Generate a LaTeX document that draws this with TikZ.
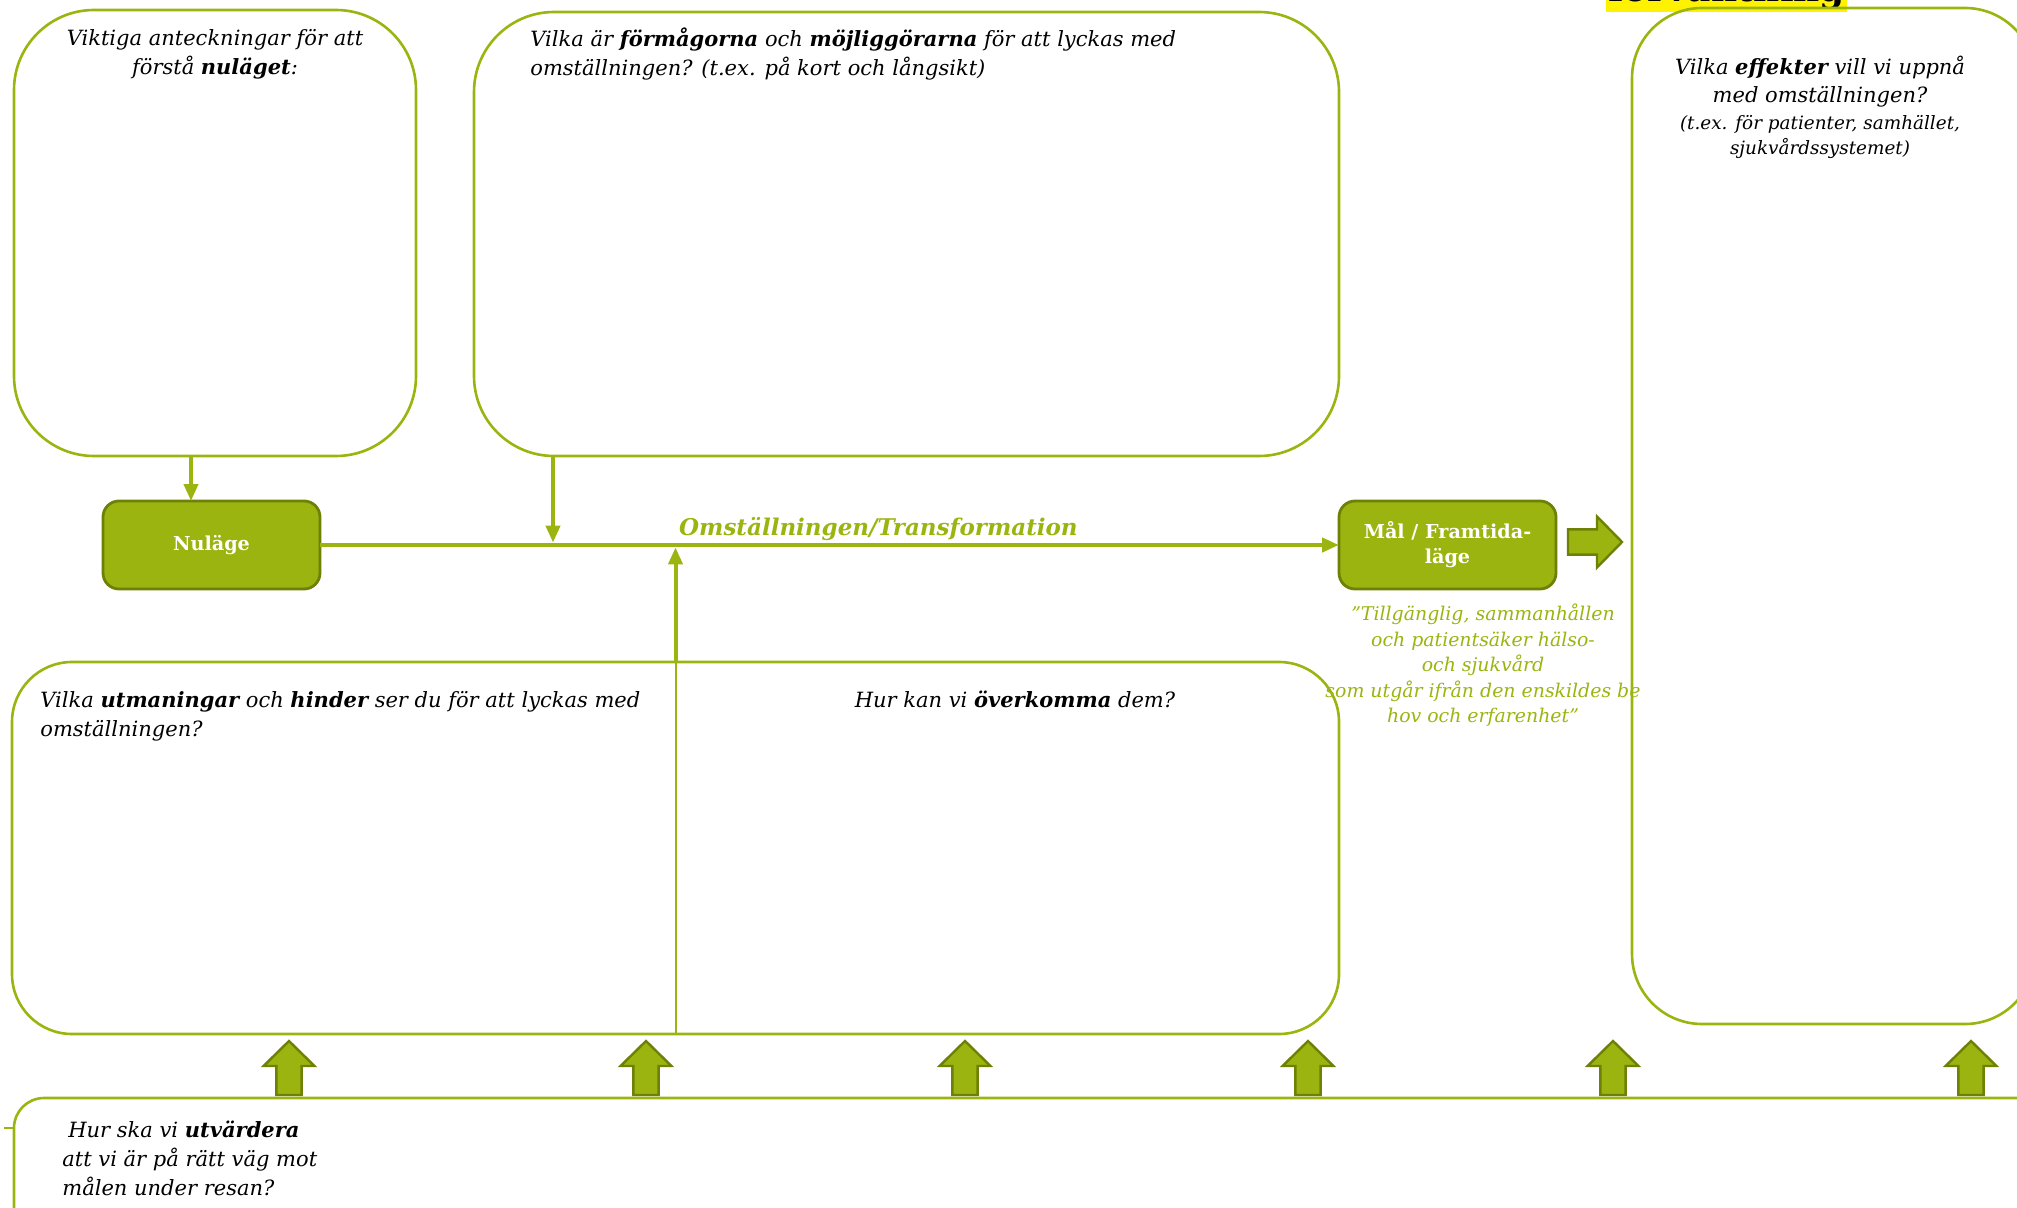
\documentclass[tikz,border=0pt]{standalone}
\usepackage{fontspec}
\setmainfont{DejaVu Serif}
\usepackage{tikz}
\usetikzlibrary{arrows.meta,calc,positioning}
\definecolor{leaf}{HTML}{9BB40F}
\definecolor{leafdark}{HTML}{6E8006}
\tikzset{
	panel/.style={draw=leaf,line width=1.3pt,rounded corners=#1,inner sep=0pt,outer sep=0pt},
	panel/.default=40pt,
	state/.style={draw=leafdark,fill=leaf,line width=1.4pt,rounded corners=8pt,
		minimum width=108.5pt,minimum height=44pt,inner sep=0pt,outer sep=0pt,
		text=white,font=\bfseries\fontsize{9.6}{12.5}\selectfont,align=center},
	note/.style={inner sep=0pt,font=\itshape\fontsize{10.5}{14.5}\selectfont},
	small note/.style={note,font=\itshape\fontsize{9.2}{12.5}\selectfont},
	feed/.style={draw=leaf,line width=2pt,-{Triangle[length=8.5pt,width=7pt]}},
	flow/.style={draw=leaf,line width=2.4pt,-{Triangle[length=8.5pt,width=7pt]}},
	pics/push/.style={code={
		\draw[leafdark,fill=leaf,line width=1.2pt,line join=miter]
			(0,0) -- (12.75pt,-12.5pt) -- (6.3pt,-12.5pt) -- (6.3pt,-27pt)
			-- (-6.3pt,-27pt) -- (-6.3pt,-12.5pt) -- (-12.75pt,-12.5pt) -- cycle;}}
}
\begin{document}
\begin{tikzpicture}[x=0.5pt,y=-0.5pt]
	\useasboundingbox (0,0) rectangle (2017,1208);
	\node [fill=yellow,inner xsep=1pt,inner ysep=1pt,anchor=base west,font=\bfseries\fontsize{18}{18}\selectfont] (rubrik) at (1606,2) {förväntning};
	\node [panel,minimum width=201pt,minimum height=223pt] (ante) at (215,233) {};
	\node [panel,minimum width=432.5pt,minimum height=222pt] (form) at (906.5,234) {};
	\node [panel=35pt,minimum width=201.5pt,minimum height=508pt] (eff) at (1833.5,516) {};
	\node [panel=30pt,minimum width=663.5pt,minimum height=186pt] (utm) at (675.5,848) {};
	\node [panel=15pt,minimum width=1023pt,minimum height=81pt] (utv) at (1037,1179) {};
	\node [state] (nu) at (211.5,545) {Nuläge};
	\node [state] (mal) at (1447.5,545) {Mål / Framtida-\\läge};
	\node [note,align=center,below=9.5pt of ante.north] (anteT) {Viktiga anteckningar för att\\förstå \textbf{nuläget}:};
	\node [note,align=left,below right=7.5pt and 28pt of form.north west] (formT) {Vilka är \textbf{förmågorna} och \textbf{möjliggörarna} för att lyckas med\\omställningen? (t.ex. på kort och långsikt)};
	\node [note,align=center,below=24pt of eff.north,xshift=-6.75pt,font=\itshape\fontsize{10.5}{14}\selectfont] (effT) {Vilka \textbf{effekter} vill vi uppnå\\med omställningen?};
	\node [small note,align=center,below=3.5pt of effT] (effS) {(t.ex. för patienter, samhället,\\sjukvårdssystemet)};
	\node [note,align=left,below right=14.5pt and 14pt of utm.north west] (utmT) {Vilka \textbf{utmaningar} och \textbf{hinder} ser du för att lyckas med\\omställningen?};
	\node [note,anchor=north] (utmR) at (1015,691) {Hur kan vi \textbf{överkomma} dem?};
	\node [note,align=left,below right=11.5pt and 24pt of utv.north west] (utvT) {\hspace{3pt}Hur ska vi \textbf{utvärdera}\\att vi är på rätt väg mot\\målen under resan?};
	\node [note,align=center,text=leaf,below=7.5pt of mal.south,xshift=17.75pt,font=\itshape\fontsize{9.45}{12.75}\selectfont] (malQ) {”Tillgänglig, sammanhållen\\och patientsäker hälso-\\och sjukvård\\som utgår ifrån den enskildes be\\hov och erfarenhet”};
	\coordinate (anteOut) at (191,456);
	\coordinate (formOut) at (553,456);
	\coordinate (utvStub) at (4,1128);
	\draw [flow] (nu) -- node [above=1pt,pos=0.548,inner sep=0pt,text=leaf,font=\bfseries\itshape\fontsize{11.5}{13}\selectfont] (flowL) {Omställningen/Transformation} (mal);
	\draw [feed] (anteOut) -- (anteOut |- nu.north);
	\draw [feed,shorten >=1.2pt] (formOut) -- (formOut |- nu.east);
	\draw [feed,shorten >=1.2pt] (utm.north) -- (utm.north |- nu.east);
	\draw [leaf,line width=1pt] (utm.north) -- (utm.south);
	\draw [leaf,line width=1pt] (utvStub) -- (utvStub -| utv.west);
	\pic [rotate=-90] at (1622,542) {push};
	\foreach \x in {289,646,965,1308,1613,1971}
		\pic at (\x,1041) {push};
\end{tikzpicture}
\end{document}
